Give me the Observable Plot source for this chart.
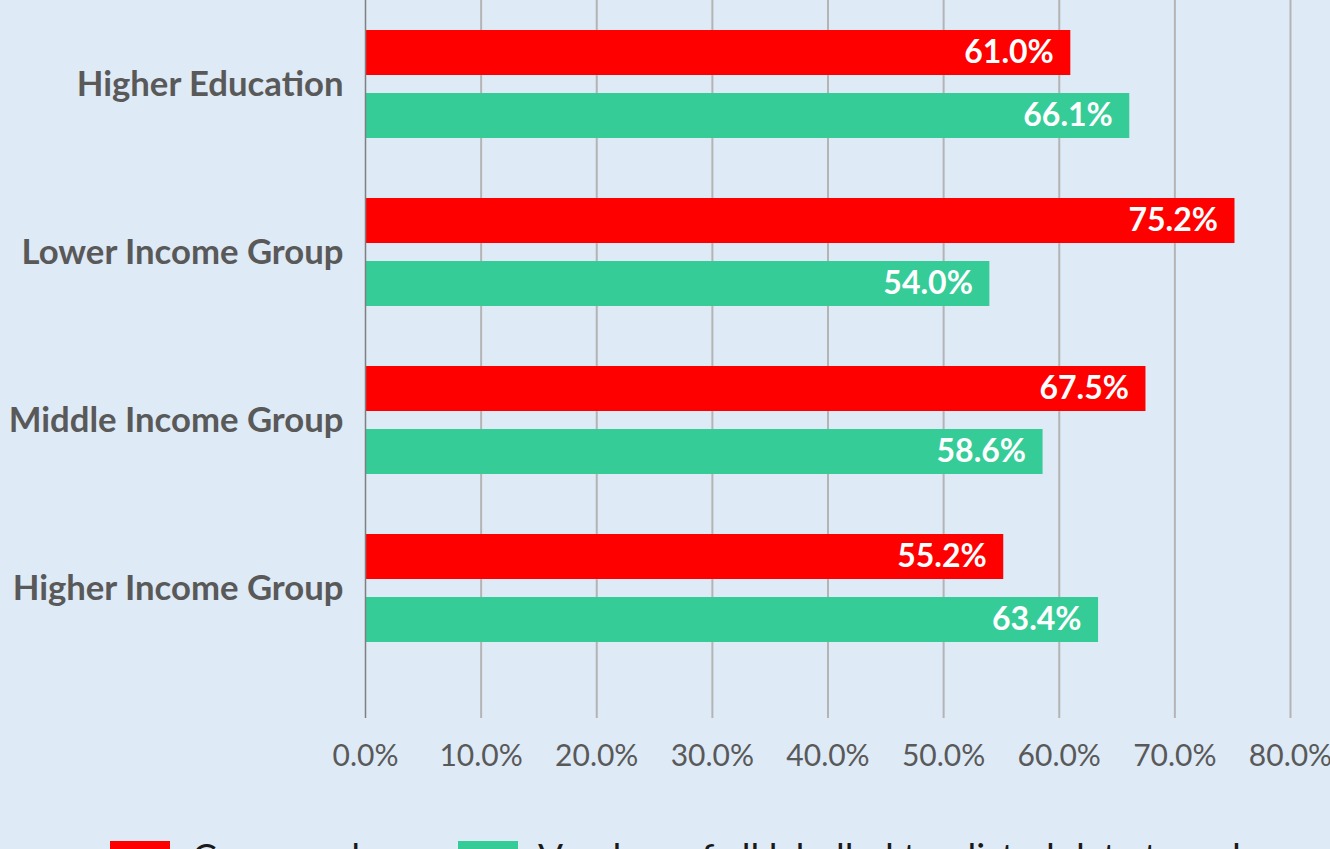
<!DOCTYPE html>
<html>
<head>
<meta charset="utf-8">
<script src="https://cdn.jsdelivr.net/npm/d3@7"></script>
<script src="https://cdn.jsdelivr.net/npm/@observablehq/plot@0.6"></script>
<style>
  html, body { margin: 0; padding: 0; background: #DEEAF6; width: 1330px; height: 849px; overflow: hidden; font-family: Lato, "Open Sans", sans-serif; }
  #chart { position: absolute; left: 0; top: 0; }
  .sw { position: absolute; width: 60px; height: 40px; }
  .lt { position: absolute; font-size: 37px; line-height: 1; color: #1a1a1a; white-space: nowrap; font-family: Lato, sans-serif; }
</style>
</head>
<body>
<div id="chart"></div>
<div class="sw" style="left:110px; top:841px; background:#FF0000"></div>
<div class="lt" style="left:192px; top:837px">Compared</div>
<div class="sw" style="left:458px; top:841px; background:#35CC98"></div>
<div class="lt" style="left:538px; top:837px">Vendors of all labelled top listed data to reduce</div>
<script>
const categories = ["Higher Education", "Lower Income Group", "Middle Income Group", "Higher Income Group"];
const seriesNames = ["Compared", "Vendors of all labelled top listed data to reduce"];
const seriesA = [0.610, 0.752, 0.675, 0.552];
const seriesB = [0.661, 0.540, 0.586, 0.634];
const xTicks = [0, 0.1, 0.2, 0.3, 0.4, 0.5, 0.6, 0.7, 0.8];
const colors = ["#FF0000", "#35CC98"];

const rowsA = categories.map((c, i) => ({category: c, value: seriesA[i]}));
const rowsB = categories.map((c, i) => ({category: c, value: seriesB[i]}));

const plot = Plot.plot({
  width: 1330,
  height: 790,
  marginLeft: 365,
  marginRight: 40,
  marginTop: 0,
  marginBottom: 72,
  style: {background: "#DEEAF6", fontFamily: "Lato, sans-serif", overflow: "visible"},
  x: {domain: [0, 0.8], ticks: xTicks, tickFormat: d3.format(".1%")},
  y: {domain: categories, range: [0, 672], padding: 0},
  marks: [
    Plot.ruleX(xTicks.slice(1), {stroke: "#B4B4B4", strokeWidth: 2}),
    Plot.barX(rowsA, {y: "category", x: "value", fill: colors[0], insetTop: 30, insetBottom: 93}),
    Plot.barX(rowsB, {y: "category", x: "value", fill: colors[1], insetTop: 93, insetBottom: 30}),
    Plot.ruleX([0], {stroke: "#7F7F7F", strokeWidth: 1.5}),
    Plot.text(rowsA, {y: "category", x: "value", text: d => d3.format(".1%")(d.value), dy: -31.5, dx: -17, textAnchor: "end", fill: "white", fontSize: 32, fontWeight: "bold"}),
    Plot.text(rowsB, {y: "category", x: "value", text: d => d3.format(".1%")(d.value), dy: 31.5, dx: -17, textAnchor: "end", fill: "white", fontSize: 32, fontWeight: "bold"}),
    Plot.axisY({tickSize: 0, tickPadding: 22, fontSize: 34.7, fontWeight: "bold", color: "#595959", label: null}),
    Plot.axisX({ticks: xTicks, tickFormat: d3.format(".1%"), tickSize: 0, tickPadding: 26, fontSize: 30, color: "#595959", label: null})
  ]
});
document.getElementById("chart").appendChild(plot);
</script>
</body>
</html>
